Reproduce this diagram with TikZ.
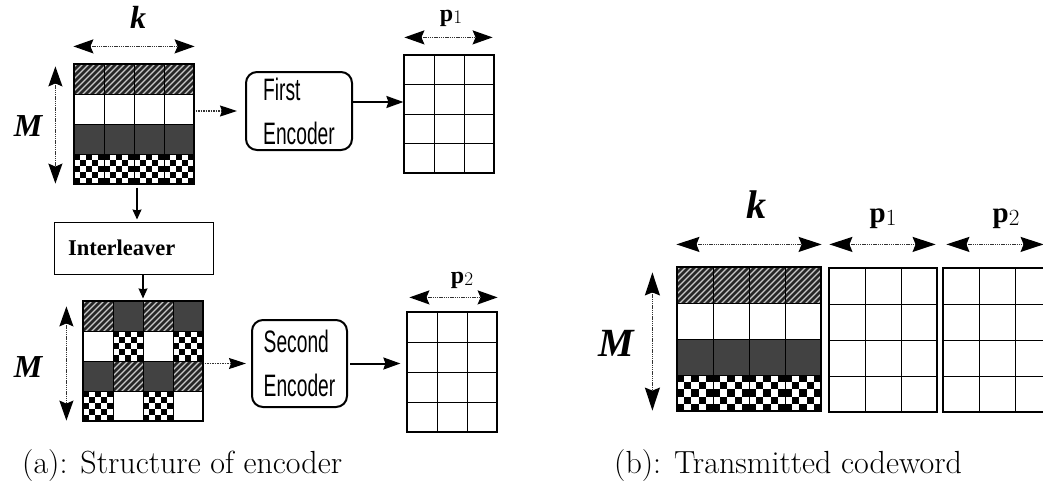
\documentclass[tikz,border=0pt]{standalone}
\usepackage{fontspec}
\newfontfamily\tserif{Liberation Serif}
\newfontfamily\encfont[FakeStretch=0.62]{Liberation Sans}
\usetikzlibrary{arrows.meta}

\newcommand{\hatchcell}[4]{%
  \begin{scope}
    \clip (#1,#2) rectangle ++(#3,#4);
    \fill[black!22] (#1,#2) rectangle ++(#3,#4);
    \foreach \s in {-44,-38,...,44}
      \draw[black!85,line width=2.6pt] (#1+\s,#2+#4+2) -- ++(#4+4,-#4-4);
  \end{scope}}
\newcommand{\darkcell}[4]{\fill[black!74] (#1,#2) rectangle ++(#3,#4);}
\newcommand{\checkcell}[4]{%
  \fill[white] (#1,#2) rectangle ++(#3,#4);
  \foreach \i in {0,...,4}{\foreach \j in {0,...,4}{%
    \pgfmathtruncatemacro\pp{mod(\i+\j,2)}%
    \ifnum\pp=0 \fill[black] (#1+\i*#3/5,#2+\j*#4/5) rectangle ++(#3/5,#4/5);\fi}}}
\newcommand{\patcell}[5]{\ifcase#1\relax\or\hatchcell{#2}{#3}{#4}{#5}\or\darkcell{#2}{#3}{#4}{#5}\or\checkcell{#2}{#3}{#4}{#5}\fi}
\newcommand{\patmatrix}[4]{%
  \foreach \t [count=\n from 0] in {#4} {%
    \pgfmathtruncatemacro\cc{mod(\n,4)}%
    \pgfmathtruncatemacro\rr{div(\n,4)}%
    \patcell{\t}{#1+\cc*#3}{#2+\rr*#3}{#3}{#3}}}
% x y cellw cellh ncols nrows
\newcommand{\cellgrid}[6]{%
  \foreach \c in {0,...,#5} \draw[gridline] (#1+\c*#3,#2) -- (#1+\c*#3,#2+#6*#4);
  \foreach \r in {0,...,#6} \draw[gridline] (#1,#2+\r*#4) -- (#1+#5*#3,#2+\r*#4);}
\newcommand{\pvar}[2]{{\tserif\bfseries\fontsize{#1}{#1}\selectfont p}\raisebox{-0.28em}{\fontsize{#1}{#1}\selectfont\scalebox{0.8}{#2}}}

\begin{document}
\begin{tikzpicture}[x=1pt,y=-1pt,
  gridline/.style={black,line width=1pt},
  blockframe/.style={draw=black,line width=1.2pt,inner sep=0pt},
  encbox/.style={draw=black,line width=2pt,rounded corners=11pt,align=left,inner sep=0pt,
     font=\encfont\fontsize{31}{44}\selectfont},
  interbox/.style={draw=black,line width=1pt,inner xsep=14pt,inner ysep=0pt,text width=131pt,
     align=left,minimum height=52pt,font=\tserif\bfseries\fontsize{22.5}{24}\selectfont},
  dimlabel/.style={font=\tserif\bfseries\itshape\fontsize{32}{34}\selectfont,inner sep=0pt},
  dimlabelB/.style={font=\tserif\bfseries\itshape\fontsize{40}{42}\selectfont,inner sep=0pt},
  plabel/.style={inner sep=0pt},
  tipA/.tip={Stealth[length=20pt,width=14pt,inset=3pt,black]},
  tipB/.tip={Stealth[length=23pt,width=15pt,inset=3pt,black]},
  dimarrow/.style={line width=1.4pt,black!80,dash pattern=on 1.5pt off 0.7pt,tipA-tipA},
  dimarrowB/.style={line width=1.5pt,black!80,dash pattern=on 1.5pt off 0.7pt,tipB-tipB},
  dotarrow/.style={line width=1.1pt,black!80,dash pattern=on 1.5pt off 1pt,
     -{Stealth[length=17pt,width=11pt,inset=2pt,black]}},
  solidarrow/.style={line width=2pt,-{Stealth[length=17pt,width=12pt,inset=2pt]}},
  smallarrow/.style={line width=1.1pt,-{Stealth[length=10pt,width=9pt,inset=1pt]}},
  caption/.style={font=\fontsize{32}{38}\selectfont,inner sep=0pt,anchor=base west}
]
\useasboundingbox (0,0) rectangle (1043,487);
\fill[white] (0,0) rectangle (1043,487);

% ---------- (a) encoder structure ----------
\patmatrix{74}{64}{30}{1,1,1,1,0,0,0,0,2,2,2,2,3,3,3,3}
\cellgrid{74}{64}{30}{30}{4}{4}
\node[blockframe,minimum width=120pt,minimum height=120pt] (m1) at (134,124) {};

\node[encbox,minimum width=106pt,minimum height=78pt] (enc1) at (299,111) {First\\Encoder};

\cellgrid{404}{55}{30}{29.5}{3}{4}
\node[blockframe,minimum width=90pt,minimum height=118pt] (g1) at (449,114) {};

\node[interbox] (inter) at (133.5,248) {Interleaver};

\patmatrix{83}{301}{30}{1,2,1,2,0,3,0,3,2,1,2,1,3,0,3,0}
\cellgrid{83}{301}{30}{30}{4}{4}
\node[blockframe,minimum width=120pt,minimum height=120pt] (m2) at (143,361) {};

\node[encbox,minimum width=95pt,minimum height=87pt] (enc2) at (299.5,363.5) {Second\\Encoder};

\cellgrid{407}{312}{30}{30}{3}{4}
\node[blockframe,minimum width=90pt,minimum height=120pt] (g2) at (452,372) {};

% labels (a)
\node[dimlabel] (kA) at (138,17) {k};
\node[dimlabel] (MA) at (28,126) {M};
\node[plabel] (p1A) at (451,18) {\pvar{24}{1}};
\node[dimlabel] (MB) at (28,367) {M};
\node[plabel] (p2A) at (462,280) {\pvar{24}{2}};

% dimension arrows (a)
\draw[dimarrow] ([yshift=17pt]m1.north west) -- ([yshift=17pt]m1.north east);
\draw[dimarrow] ([xshift=-18pt,yshift=-3pt]m1.north west) -- ([xshift=-18pt,yshift=1pt]m1.south west);
\draw[dimarrow] ([xshift=1pt,yshift=17pt]g1.north west) -- ([xshift=-2pt,yshift=17pt]g1.north east);
\draw[dimarrow] ([xshift=-16pt,yshift=-6pt]m2.north west) -- ([xshift=-16pt,yshift=1pt]m2.south west);
\draw[dimarrow] ([xshift=3pt,yshift=14pt]g2.north west) -- ([xshift=0pt,yshift=14pt]g2.north east);

% connectors (a)
\draw[dotarrow,shorten <=1pt,shorten >=8pt] (m1.east |- enc1.west) -- (enc1.west);
\draw[solidarrow] ([yshift=9pt]enc1.east) -- ([yshift=9pt]enc1.east -| g1.west);
\draw[smallarrow,shorten <=3pt,shorten >=2pt] ([xshift=3pt]m1.south) -- ([xshift=3pt]m1.south |- inter.north);
\draw[smallarrow,shorten >=2pt] (inter.south -| m2.north) -- (m2.north);
\draw[dotarrow,shorten <=1pt,shorten >=5pt] (m2.east |- enc2.west) -- (enc2.west);
\draw[solidarrow,shorten <=2pt,shorten >=6pt] (enc2.east) -- (enc2.east -| g2.west);

% ---------- (b) transmitted codeword ----------
\patmatrix{677}{267}{36}{1,1,1,1,0,0,0,0,2,2,2,2,3,3,3,3}
\cellgrid{677}{267}{36}{36}{4}{4}
\node[blockframe,minimum width=144pt,minimum height=144pt] (m3) at (749,339) {};

\cellgrid{829}{268}{36}{36}{3}{4}
\node[blockframe,minimum width=108pt,minimum height=144pt] (g3) at (883,340) {};

\cellgrid{943}{268}{36}{36}{3}{4}
\node[blockframe,minimum width=108pt,minimum height=144pt] (g4) at (997,340) {};

\node[dimlabelB] (kB) at (756,205) {k};
\node[dimlabelB] (MC) at (616,343) {M};
\node[plabel] (p1B) at (883,219) {\pvar{29}{1}};
\node[plabel] (p2B) at (1006,219) {\pvar{29}{2}};

\draw[dimarrowB] ([yshift=22pt]m3.north west) -- ([yshift=22pt]m3.north east);
\draw[dimarrowB] ([xshift=-24pt,yshift=-6pt]m3.north west) -- ([xshift=-24pt,yshift=1pt]m3.south west);
\draw[dimarrowB] ([xshift=1pt,yshift=23pt]g3.north west) -- ([xshift=-2pt,yshift=23pt]g3.north east);
\draw[dimarrowB] ([xshift=4pt,yshift=23pt]g4.north west) -- ([xshift=-8pt,yshift=23pt]g4.north east);

% captions
\node[caption] (capA) at (22,473) {(a): Structure of encoder};
\node[caption] (capB) at (614,473) {(b): Transmitted codeword};
\end{tikzpicture}
\end{document}
